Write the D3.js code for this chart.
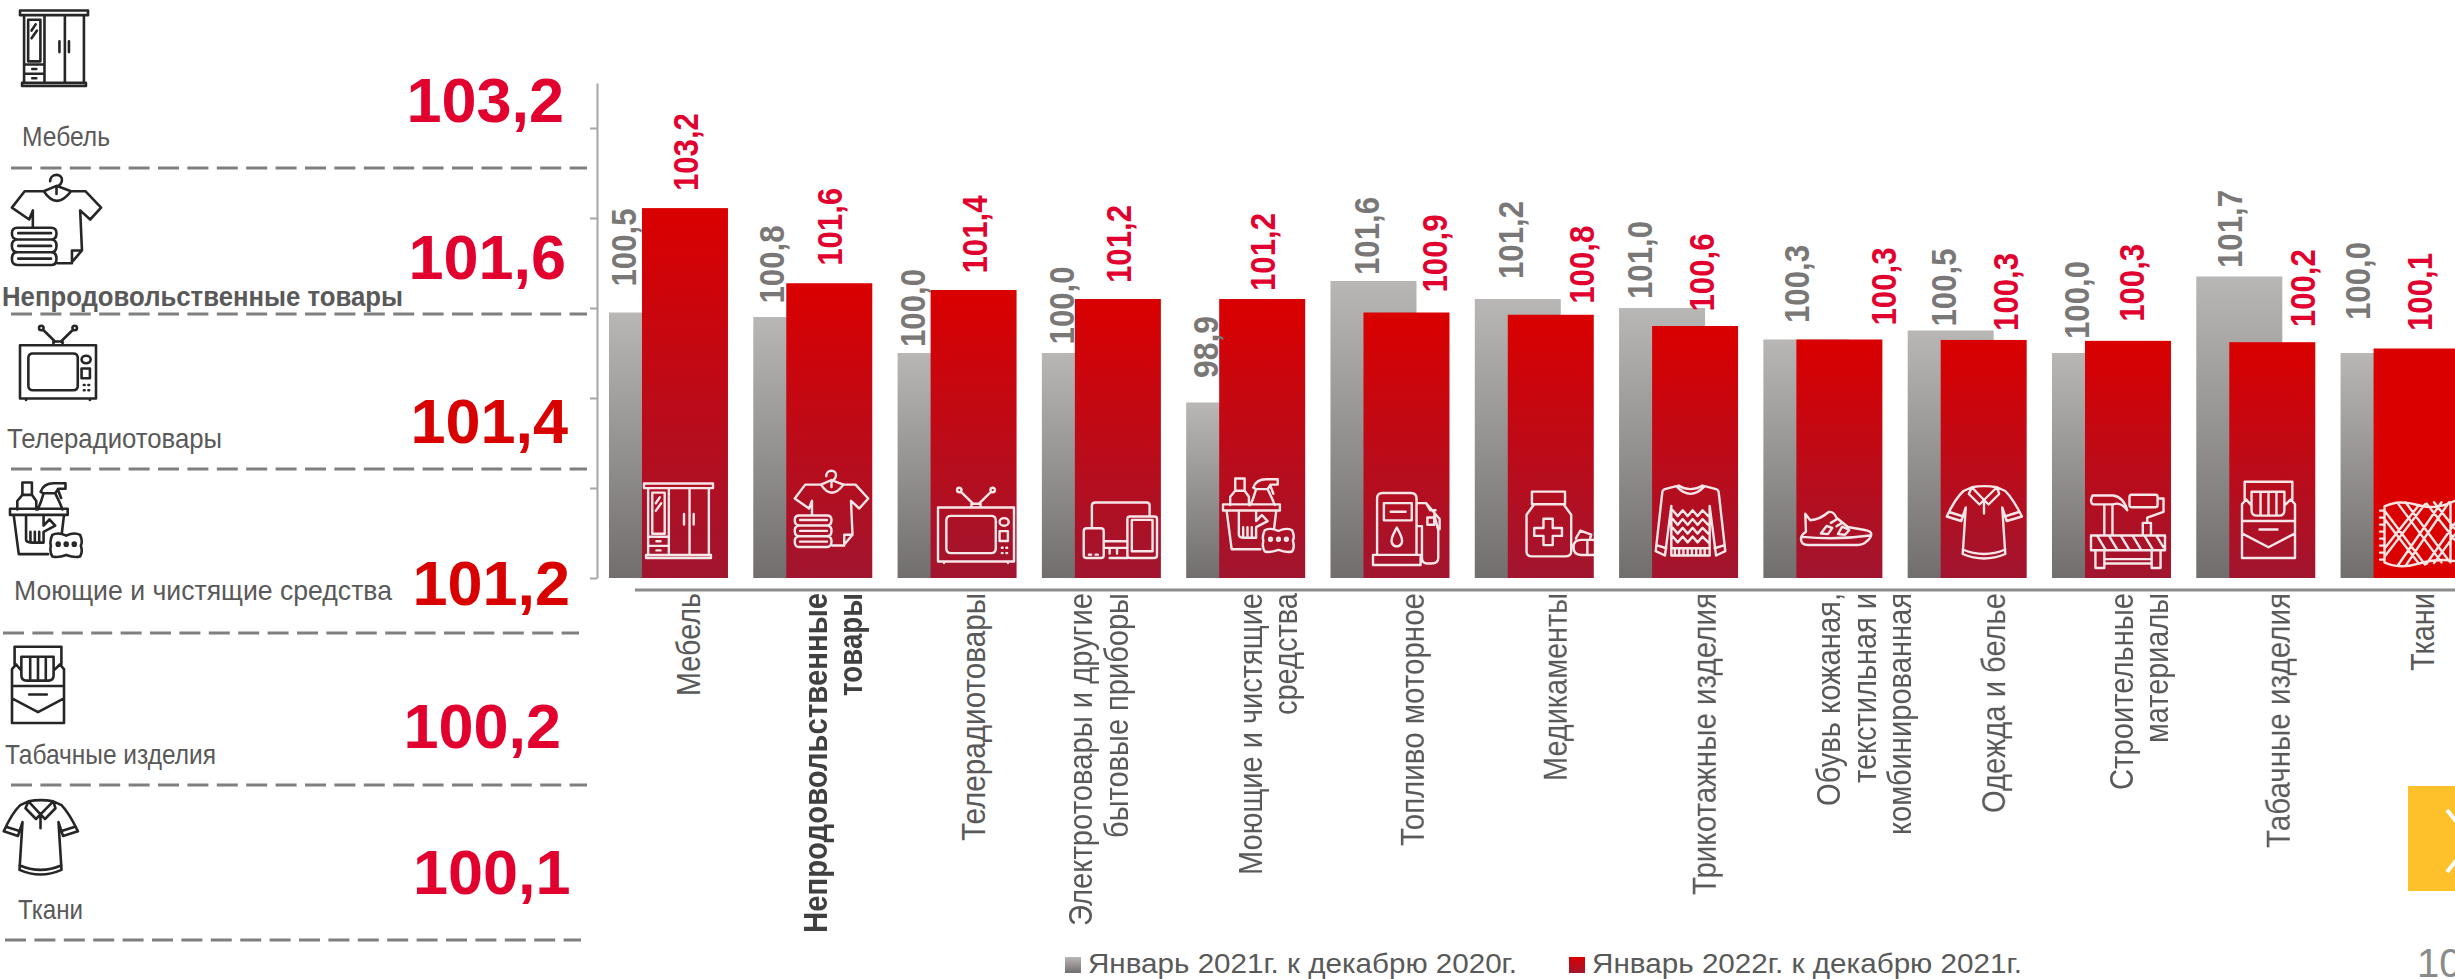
<!DOCTYPE html>
<html lang="ru">
<head>
<meta charset="utf-8">
<title>Индексы цен</title>
<script src="https://cdn.jsdelivr.net/npm/d3@7"></script>
<style>
	html, body { margin: 0; padding: 0; background: #fff; overflow: hidden; }
	svg { display: block; font-family: "Liberation Sans", Arial, sans-serif; }
</style>
</head>
<body>
<div id="chart"></div>
<script>
// data
const categories = ["Мебель", "Непродовольственные\nтовары", "Телерадиотовары", "Электротовары и другие\nбытовые приборы",
	"Моющие и чистящие\nсредства", "Топливо моторное", "Медикаменты", "Трикотажные изделия",
	"Обувь кожаная,\nтекстильная и\nкомбинированная", "Одежда и белье", "Строительные\nматериалы", "Табачные изделия", "Ткани"];
const greyValues = [100.9, 100.8, 100.0, 100.0, 98.9, 101.6, 101.2, 101.0, 100.3, 100.5, 100.0, 101.7, 100.0];
const redValues = [103.22, 101.55, 101.4, 101.2, 101.2, 100.9, 100.85, 100.6, 100.3, 100.29, 100.27, 100.24, 100.1];
const greyLabels = ["100,5", "100,8", "100,0", "100,0", "98,9", "101,6", "101,2", "101,0", "100,3", "100,5", "100,0", "101,7", "100,0"];
const redLabels = ["103,2", "101,6", "101,4", "101,2", "101,2", "100,9", "100,8", "100,6", "100,3", "100,3", "100,3", "100,2", "100,1"];
const yTicks = [95, 97, 99, 101, 103, 105];
const legendLabels = ["Январь 2021г. к декабрю 2020г.", "Январь 2022г. к декабрю 2021г."];
const topNames = ["Мебель", "Непродовольственные товары", "Телерадиотовары", "Моющие и чистящие средства", "Табачные изделия", "Ткани"];
const topValues = ["103,2", "101,6", "101,4", "101,2", "100,2", "100,1"];

// hand placed things, the labels in the original were dragged around
const greyLabelDx = [14.5, 18, 14.5, 20, 19, 36, 36, 20, 33, 36, 25, 33.5, 17];
const greyLabelGap = [26, 13.5, 6, 8.6, 24.5, 6, 20, 9, 16.5, 4, 14, 8.5, 33];
const redLabelDx = [44, 43, 43.6, 43.5, 43, 70.7, 73.6, 49, 87, 64.6, 47, 73.5, 46];
const redLabelGap = [17, 17.4, 16.5, 16, 8, 20, 11, 14.5, 14, 9, 19, 15, 17.5];
const catLabelDx = [91, 73.7, 87, 50.6, 75.7, 93.4, 92, 96.7, 77, 97.5, 80.8, 93.5, 93.8];
const catLabelLen = [[103], [340, 103], [248], [333, 245], [282, 122], [253], [188], [302], [213, 190, 242], [220], [197, 150], [255], [78]];

// icons, all in a 100x100 box and stretched into the box they get
const icons = {
	wardrobe: "M0 2H100V8H0ZM6 8V96H94V8M3 96H97V100H3ZM36 8V96M66 8V96M12 14H30V68H12ZM6 72H36M6 84H36M18 78H24M18 90H24M58 42V56M72 42V56M17 28L23 20M17 38L25 28",
	shirt: "M36 19L15 19L1 37L20 50L24 40V58M66 19L82 19L99 37L87 50L76 40L78 84L66 98H51M36 19Q50 40 66 19M78 84H67V98M50 22V14C58 11 58 1 50 1C45 1 43 5 43 8M36 19L50 13L66 19M7 59H44Q50 59 50 65Q50 72 44 72H7Q1 72 1 65Q1 59 7 59ZM7 72H44Q50 72 50 79Q50 86 44 86H7Q1 86 1 79Q1 72 7 72ZM7 86H44Q50 86 50 93Q50 100 44 100H7Q1 100 1 93Q1 86 7 86ZM8 65H44M8 79H44M8 93H44",
	tv: "M0 27H100V98H0ZM17 38H70Q76 38 76 44V81Q76 87 70 87H17Q11 87 11 81V44Q11 38 17 38ZM30 6L46 22M70 6L54 22M44 22H56V27H44ZM25 4a3 3 0 1 0 6 0a3 3 0 1 0 -6 0M69 4a3 3 0 1 0 6 0a3 3 0 1 0 -6 0M81 46a6 5 0 1 0 12 0a6 5 0 1 0 -12 0M81 58H92V71H81ZM84 80H85M90 80H91M84 87H85M90 87H91M8 98V100M92 98V100",
	devices: "M12 47V6Q12 1 17 1H86Q90 1 90 6V26M5 47H24Q28 47 28 52V96Q28 100 24 100H5Q1 100 1 96V52Q1 47 5 47ZM64 26H96Q100 26 100 30V96Q100 100 96 100H64Q60 100 60 96V30Q60 26 64 26ZM66 32H94V88H66ZM28 70H60M28 82H60M36 82V92M46 82V92M36 100H60M8 94H11M17 94H20",
	cleaning: "M17 18H30V2H17ZM17 18L10 26V37M30 18L36 26V37M42 14Q46 3 60 3H76V10H66L62 16H46ZM46 16L42 28L38 37M62 16L68 28L72 37M66 12L70 22M0 36H79V44H0ZM5 44L12 95H52M74 44L71 68M22 44V76Q22 80 30 80H46V66L62 58L54 50L46 58V44M28 66V80M34 66V80M40 66V80M58 70Q66 66 77 71Q88 66 96 70Q100 78 97 84Q100 92 96 98Q88 100 77 96Q66 100 58 98Q54 92 56 84Q54 78 58 70ZM64 82a2 2 0 1 0 4 0a2 2 0 1 0 -4 0M75 82a2 2 0 1 0 4 0a2 2 0 1 0 -4 0M86 82a2 2 0 1 0 4 0a2 2 0 1 0 -4 0",
	pump: "M6 86V8Q6 0 14 0H56Q64 0 64 8V86M0 86H70V100H0ZM16 14H57V38H16ZM26 26H48M35 48C28 60 26 65 28 70A8 8 0 0 0 42 70C44 65 42 60 35 48ZM64 46H72V90Q72 98 80 98H86Q96 98 96 90V52L90 30M64 14H78L98 36V50M78 14L84 24H92M80 34H90V44H80Z",
	medicine: "M9 1H52V20H9ZM12 20L2 36V92Q2 99 9 99H52Q60 99 60 92V36L50 20M24 42H36V56H48V68H36V82H24V68H12V56H24ZM73 74H90Q100 74 100 85Q100 97 90 97H73Q63 97 63 85Q63 74 73 74ZM81 74V97M66 72L72 60L86 66L84 74",
	sweater: "M30 3L14 7Q10 8 10 14L1 92L14 98L23 30V98H77V30L86 98L99 92L90 14Q90 8 86 7L70 3M30 3Q50 24 70 3M33 2Q50 12 67 2M25 36L32 44L39 36L46 44L53 36L60 44L67 36L75 44M25 48L32 56L39 48L46 56L53 48L60 56L67 48L75 56M25 60L32 68L39 60L46 68L53 60L60 68L67 60L75 68M25 72L32 80L39 72L46 80L53 72L60 80L67 72L75 80M23 88H77M28 88V98M34 88V98M40 88V98M46 88V98M52 88V98M58 88V98M64 88V98M70 88V98M3 84L16 88M97 84L84 88",
	sneaker: "M6 8L13 27Q26 26 39 3Q46 0 50 20L66 47L90 56Q99 60 99 68Q99 80 92 90Q88 100 80 100H10Q0 100 0 82Q0 70 7 61ZM2 76Q50 86 97 72M28 66L36 44L44 50L38 68ZM52 68L58 46L68 56L62 70ZM50 25L42 35M58 35L50 45",
	polo: "M34 3Q50 0 67 3L78 8Q88 18 100 42L80 48L74 30L78 92Q50 104 22 92L26 30L20 48L1 42Q12 18 23 8ZM22 86Q50 98 78 86M34 3L50 20L67 3M34 3L30 12L44 26L50 20L56 26L70 12L67 3M50 20V38M4 36L23 42M96 36L77 42",
	tools: "M2 2H30Q44 4 49 22Q40 10 30 14H4Q0 14 0 8ZM18 14V56M29 14V56M55 1H87Q90 1 90 4V15Q90 18 87 18H55Q52 18 52 15V4Q52 1 55 1ZM90 6H98V24L76 32V39M70 39H81V56H70ZM0 56H100V76H0ZM8 56L20 76M24 56L36 76M40 56L52 76M56 56L68 76M72 56L84 76M88 56L98 72M6 76V100H18V76M82 76V100H94V76M18 88H82M18 94H82",
	cigs: "M5 24V1H95V24M18 14H80V38Q80 45 70 45H28Q18 45 18 38ZM35 14V45M50 14V45M65 14V45M0 52V100H100V52H0M0 52V30L8 24L18 32M100 52V30L92 24L80 32M0 68L50 86L100 68M33 63H67",
	fabric: "M6 12Q25 2 50 10T100 4M6 92Q25 102 50 94T100 90M6 12V92M94 6V92M0 18H6M0 28H6M0 38H6M0 48H6M0 58H6M0 68H6M0 78H6M0 88H6M6 30L52 94M6 18L60 95M24 8L82 92M34 6L92 90M62 8L100 60M72 6L100 44M6 72L52 10M6 84L60 9M24 96L82 6M34 97L92 6M62 94L100 36M72 93L100 52"
};
const barIcons = ["wardrobe", "shirt", "tv", "devices", "cleaning", "pump", "medicine", "sweater", "sneaker", "polo", "tools", "cigs", "fabric"];
const barIconBox = [[644, 482, 69, 76], [794, 470, 75, 77], [938, 487, 76, 76], [1083, 502, 74, 56], [1223, 477, 72, 76], [1373, 493, 68, 72],
	[1525, 491, 77, 66], [1655, 484, 71, 73], [1801, 511, 71, 34], [1946, 485, 76, 75], [2091, 494, 74, 74], [2242, 481, 53, 77], [2380, 498, 75, 70]];
const sideIcons = ["wardrobe", "shirt", "tv", "cleaning", "cigs", "polo"];
const sideIconBox = [[20, 9, 68, 77], [11, 174, 91, 91], [20, 325, 76, 75], [10, 481, 73, 77], [12, 646, 52, 77], [3, 799, 75, 77]];

const width = 2455;
const height = 979;

const svg = d3.select("#chart").append("svg")
	.attr("width", width)
	.attr("height", height)
	.attr("viewBox", [0, 0, width, height]);

// gradients
const defs = svg.append("defs");
function addGradient(id, top, bottom) {
	const g = defs.append("linearGradient").attr("id", id).attr("x1", 0).attr("y1", 0).attr("x2", 0).attr("y2", 1);
	g.append("stop").attr("offset", 0).attr("stop-color", top);
	g.append("stop").attr("offset", 1).attr("stop-color", bottom);
}
addGradient("gradGrey", "#b9b7b5", "#716e6d");
addGradient("gradRed", "#da0000", "#a1152f");

const x = d3.scaleBand()
	.domain(categories)
	.range([596.35, 2472.25])
	.paddingInner(0.175)
	.paddingOuter(0.0875);
const barW = 86;
const redShift = 33;

const y = d3.scaleLinear().domain([95, 106]).range([578, 83]);

// y axis without labels
const yAxis = svg.append("g")
	.attr("transform", "translate(597,0)")
	.call(d3.axisLeft(y).tickValues(yTicks).tickFormat("").tickSize(7).tickSizeOuter(0));
yAxis.selectAll("path, line").attr("stroke", "#a6a6a6").attr("stroke-width", 2);

// x axis line sits a bit under the bars
svg.append("line")
	.attr("x1", 635).attr("x2", width)
	.attr("y1", 590).attr("y2", 590)
	.attr("stroke", "#8c8c8c").attr("stroke-width", 3);

// bars
svg.append("g").selectAll("rect")
	.data(greyValues)
	.join("rect")
	.attr("x", (d, i) => x(categories[i]))
	.attr("y", d => y(d))
	.attr("width", barW)
	.attr("height", d => y(95) - y(d))
	.attr("fill", "url(#gradGrey)");

svg.append("g").selectAll("rect")
	.data(redValues)
	.join("rect")
	.attr("x", (d, i) => x(categories[i]) + redShift)
	.attr("y", d => y(d))
	.attr("width", barW)
	.attr("height", d => y(95) - y(d))
	.attr("fill", (d, i) => i === categories.length - 1 ? "#da0000" : "url(#gradRed)");

function drawIcon(parent, name, box, color, sw) {
	const [bx, by, bw, bh] = box;
	parent.append("path")
		.attr("d", icons[name])
		.attr("transform", `translate(${bx},${by}) scale(${bw / 100},${bh / 100})`)
		.attr("fill", "none")
		.attr("stroke", color)
		.attr("stroke-width", sw)
		.attr("stroke-linejoin", "round")
		.attr("stroke-linecap", "round")
		.attr("vector-effect", "non-scaling-stroke");
}

const barIconG = svg.append("g").attr("opacity", 0.9);
barIcons.forEach((name, i) => drawIcon(barIconG, name, barIconBox[i], "#fff", 2.4));

const sideIconG = svg.append("g");
sideIcons.forEach((name, i) => drawIcon(sideIconG, name, sideIconBox[i], "#262626", 2.6));

// value labels, rotated
function valueLabels(labels, values, left, dx, gap, color) {
	svg.append("g").selectAll("text")
		.data(labels)
		.join("text")
		.attr("transform", (d, i) => `translate(${left(i) + dx[i] + 12.5},${y(values[i]) - gap[i]}) rotate(-90)`)
		.attr("font-size", 35)
		.attr("font-weight", "bold")
		.attr("fill", color)
		.attr("textLength", d => d.length === 4 ? 62 : 78)
		.attr("lengthAdjust", "spacingAndGlyphs")
		.text(d => d);
}
valueLabels(greyLabels, greyValues, i => x(categories[i]), greyLabelDx, greyLabelGap, "#7a7777");
valueLabels(redLabels, redValues, i => x(categories[i]) + redShift, redLabelDx, redLabelGap, "#e2002e");

// category labels, lines hang from the axis
categories.forEach((cat, i) => {
	const lines = cat.split("\n");
	lines.forEach((line, k) => {
		svg.append("text")
			.attr("transform", `translate(${x(cat) + catLabelDx[i] + k * 35.3},593) rotate(-90)`)
			.attr("text-anchor", "end")
			.attr("font-size", 33)
			.attr("font-weight", i === 1 ? "bold" : "normal")
			.attr("fill", i === 1 ? "#404040" : "#595959")
			.attr("textLength", catLabelLen[i][k])
			.attr("lengthAdjust", "spacingAndGlyphs")
			.text(line);
	});
});

// left list
const topNameX = [22, 2, 7, 14, 5, 18];
const topNameY = [146, 306, 448, 600, 764, 919];
const topNameW = [88, 401, 215, 378, 211, 65];
const topValueX = [406.5, 408.5, 410.5, 412.5, 403.5, 413];
const topValueY = [122, 279, 443, 605, 748, 894];
const topValueColor = ["#e2002e", "#e2002e", "#d90000", "#d90000", "#e2002e", "#e2002e"];
const dashY = [168, 314, 469, 633, 785, 940];
const dashX = [[11, 587], [11, 587], [11, 587], [3, 579], [11, 587], [5, 581]];

svg.append("g").selectAll("text")
	.data(topNames)
	.join("text")
	.attr("x", (d, i) => topNameX[i])
	.attr("y", (d, i) => topNameY[i])
	.attr("font-size", 28)
	.attr("font-weight", (d, i) => i === 1 ? "bold" : "normal")
	.attr("fill", "#595959")
	.attr("textLength", (d, i) => topNameW[i])
	.attr("lengthAdjust", "spacingAndGlyphs")
	.text(d => d);

svg.append("g").selectAll("text")
	.data(topValues)
	.join("text")
	.attr("x", (d, i) => topValueX[i])
	.attr("y", (d, i) => topValueY[i])
	.attr("font-size", 63)
	.attr("font-weight", "bold")
	.attr("fill", (d, i) => topValueColor[i])
	.text(d => d);

svg.append("g").selectAll("line")
	.data(dashY)
	.join("line")
	.attr("x1", (d, i) => dashX[i][0])
	.attr("x2", (d, i) => dashX[i][1])
	.attr("y1", d => d)
	.attr("y2", d => d)
	.attr("stroke", "#7f7f7f")
	.attr("stroke-width", 3)
	.attr("stroke-dasharray", "21 8.4");

// legend
const legendX = [1065, 1569];
const legendFill = ["url(#gradGrey)", "url(#gradRed)"];
const legendW = [429, 430];
const legend = svg.append("g").selectAll("g")
	.data(legendLabels)
	.join("g")
	.attr("transform", (d, i) => `translate(${legendX[i]},957)`);
legend.append("rect")
	.attr("width", 16)
	.attr("height", 16)
	.attr("fill", (d, i) => legendFill[i]);
legend.append("text")
	.attr("x", 23)
	.attr("y", 16)
	.attr("font-size", 28)
	.attr("fill", "#595959")
	.attr("textLength", (d, i) => legendW[i])
	.attr("lengthAdjust", "spacingAndGlyphs")
	.text(d => d);

// next slide button and page number, both cut by the right edge
svg.append("rect")
	.attr("x", 2408).attr("y", 786)
	.attr("width", 47).attr("height", 105)
	.attr("fill", "#ffc12b");
svg.append("path")
	.attr("d", "M2447 810L2472 841L2447 872")
	.attr("fill", "none")
	.attr("stroke", "#fff")
	.attr("stroke-width", 4);
svg.append("text")
	.attr("x", 2417).attr("y", 977)
	.attr("font-size", 40)
	.attr("fill", "#8a8a8a")
	.text("10");
</script>
</body>
</html>
